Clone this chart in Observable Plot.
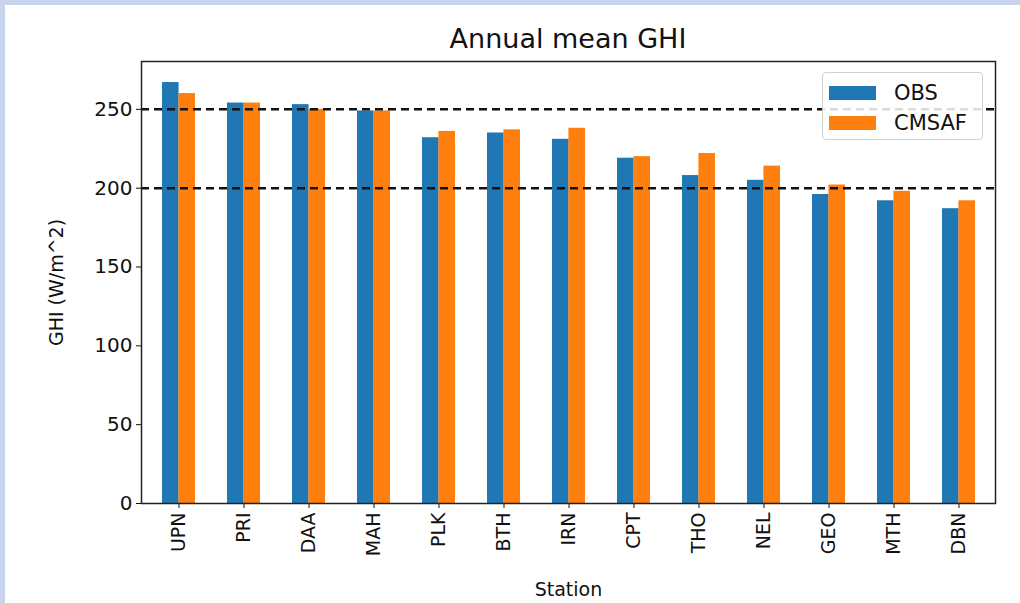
<!DOCTYPE html>
<html>
<head>
<meta charset="utf-8">
<script src="https://cdn.jsdelivr.net/npm/d3@7"></script>
<script src="https://cdn.jsdelivr.net/npm/@observablehq/plot@0.6"></script>
<style>
  html, body { margin: 0; padding: 0; background: #ffffff; }
  body { width: 1020px; height: 603px; position: relative; overflow: hidden; font-family: "DejaVu Sans", sans-serif; }
  #bandTop { position: absolute; left: 0; top: 0; width: 1020px; height: 5px; background: #c8d4ec; }
  #bandLeft { position: absolute; left: 0; top: 0; width: 5px; height: 603px; background: #c8d4ec; }
  #chart { position: absolute; left: 0; top: 0; }
  #title { position: absolute; left: 141px; width: 854px; top: 25px; text-align: center; font-size: 27px; line-height: 27px; color: #111; }
  #legend { position: absolute; left: 822px; top: 72px; width: 161px; height: 68px; background: rgba(255,255,255,0.85); border: 1px solid #d0d0d0; border-radius: 4px; box-sizing: border-box; }
  .item { position: absolute; left: 6px; height: 22px; display: flex; align-items: center; font-size: 21px; color: #111; }
  .sw { width: 47px; height: 14px; margin-right: 18px; }
</style>
</head>
<body>
<div id="chart"></div>
<div id="title">Annual mean GHI</div>
<div id="legend"></div>
<div id="bandTop"></div>
<div id="bandLeft"></div>
<script>
const stations = ["UPN","PRI","DAA","MAH","PLK","BTH","IRN","CPT","THO","NEL","GEO","MTH","DBN"];
const obs    = [267, 254, 253, 249, 232, 235, 231, 219, 208, 205, 196, 192, 187];
const cmsaf  = [260, 254, 250, 249, 236, 237, 238, 220, 222, 214, 202, 198, 192];
const series = ["OBS", "CMSAF"];
const seriesColors = ["#1f77b4", "#ff7f0e"];
const yTicks = [0, 50, 100, 150, 200, 250];
const refLines = [200, 250];

const rows = [];
stations.forEach((s, i) => {
  rows.push({station: s, series: "OBS", ghi: obs[i]});
  rows.push({station: s, series: "CMSAF", ghi: cmsaf[i]});
});

const W = 1020, H = 603;
const mL = 141, mR = 25, mT = 61, mB = 100;
const step = (W - mL - mR) / (stations.length);
const half = step * 0.25;

const plot = Plot.plot({
  width: W,
  height: H,
  marginLeft: mL,
  marginRight: mR,
  marginTop: mT,
  marginBottom: mB,
  style: {fontFamily: "DejaVu Sans, sans-serif", background: "transparent", color: "#111"},
  x: {domain: stations, paddingInner: 0.5, paddingOuter: 0.25, align: 0.5},
  y: {domain: [0, 280.35]},
  color: {domain: series, range: seriesColors},
  marks: [
    Plot.barY(rows.filter(d => d.series === "OBS"), {x: "station", y: "ghi", fill: "series", insetRight: half}),
    Plot.barY(rows.filter(d => d.series === "CMSAF"), {x: "station", y: "ghi", fill: "series", insetLeft: half}),
    Plot.ruleY(refLines, {stroke: "#111", strokeWidth: 2.5, strokeDasharray: "8,5"}),
    Plot.axisY({ticks: yTicks, tickSize: 5, tickPadding: 4, fontSize: 20, label: "GHI (W/m^2)", labelAnchor: "center", labelArrow: "none", labelOffset: 92}),
    Plot.axisX({tickSize: 5, tickPadding: 4, tickRotate: -90, fontSize: 19, label: "Station", labelAnchor: "center", labelArrow: "none", labelOffset: 92}),
    Plot.frame({stroke: "#222", strokeWidth: 1.5})
  ]
});
plot.querySelectorAll('[aria-label="y-axis label"], [aria-label="x-axis label"]').forEach(el => el.setAttribute("font-size", 19));
document.getElementById("chart").appendChild(plot);

const legend = document.getElementById("legend");
series.forEach((s, i) => {
  const it = document.createElement("div");
  it.className = "item";
  it.style.top = (i === 0 ? 9 : 39) + "px";
  const sw = document.createElement("div");
  sw.className = "sw";
  sw.style.background = seriesColors[i];
  it.appendChild(sw);
  const t = document.createElement("span");
  t.textContent = s;
  it.appendChild(t);
  legend.appendChild(it);
});
</script>
</body>
</html>
